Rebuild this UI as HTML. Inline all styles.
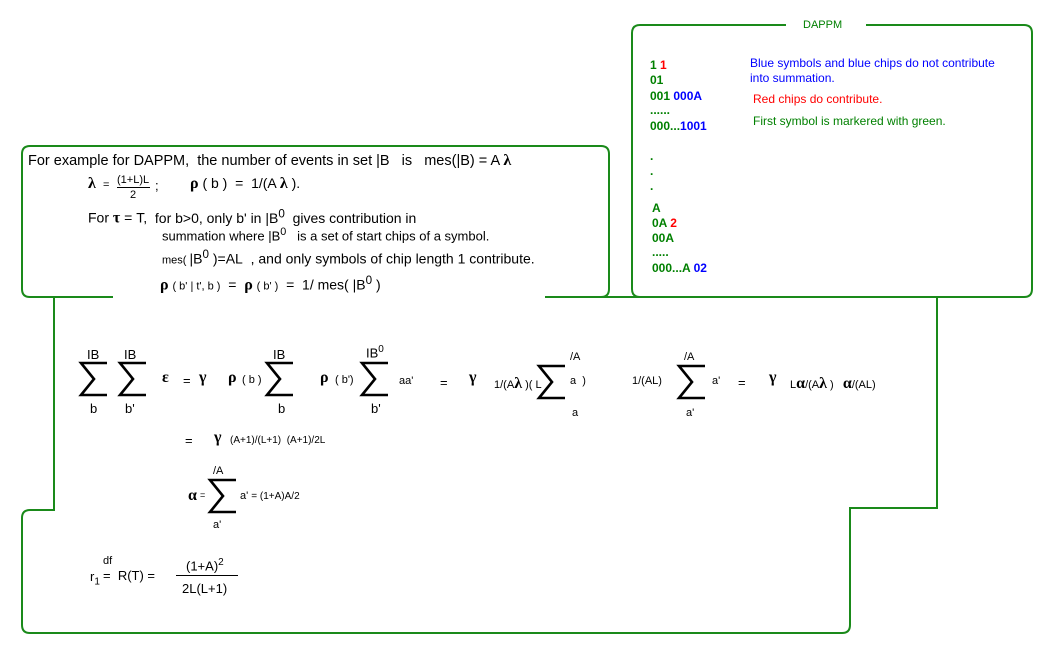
<!DOCTYPE html>
<html><head><meta charset="utf-8"><style>
body{margin:0;width:1055px;height:661px;background:#fff;position:relative;overflow:hidden;font-family:"Liberation Sans",Arial,sans-serif;color:#000}
.t{position:absolute;white-space:nowrap;line-height:1;font-size:13px}
.s{font-size:11px}
.g{font-weight:bold;font-family:"Liberation Serif",serif;font-size:16px}
.gr{color:#008000;font-weight:bold;font-size:12px}
.bl{color:#0000ff}.rd{color:#ff0000}
</style></head><body>
<svg width="1055" height="661" style="position:absolute;left:0;top:0" fill="none" stroke="#1a8a1a" stroke-width="2">
<path d="M113 297 H30 Q22 297 22 289 V154 Q22 146 30 146 H601 Q609 146 609 154 V289 Q609 297 601 297 H545"/>
<path d="M54 297 V510 H30 Q22 510 22 518 V625 Q22 633 30 633 H842 Q850 633 850 625 V508 H937 V297 H545"/>
<path d="M672 297 H640 Q632 297 632 289 V33 Q632 25 640 25 H786 M866 25 H1024 Q1032 25 1032 33 V289 Q1032 297 1024 297 H895"/>
</svg>
<svg width="1055" height="661" style="position:absolute;left:0;top:0" fill="none" stroke="#000" stroke-width="2.6" stroke-linejoin="miter">
<defs><path id="sg" d="M28 1 H2 L15 17 L2 33 H28"/></defs>
<use href="#sg" x="79" y="362"/>
<use href="#sg" x="118" y="362"/>
<use href="#sg" x="265" y="362"/>
<use href="#sg" x="360" y="362"/>
<use href="#sg" x="537" y="365"/>
<use href="#sg" x="677" y="365"/>
<use href="#sg" x="208" y="479"/>
</svg>
<div class="t s" style="left:803px;top:20px;color:#008000">DAPPM</div>
<div class="t gr" style="left:650px;top:59px">1 <span class="rd">1</span></div>
<div class="t gr" style="left:650px;top:74px">01</div>
<div class="t gr" style="left:650px;top:90px">001 <span class="bl">000A</span></div>
<div class="t gr" style="left:650px;top:104px">......</div>
<div class="t gr" style="left:650px;top:120px">000...<span class="bl">1001</span></div>
<div class="t gr" style="left:650px;top:150px">.</div>
<div class="t gr" style="left:650px;top:165px">.</div>
<div class="t gr" style="left:650px;top:180px">.</div>
<div class="t gr" style="left:652px;top:202px">A</div>
<div class="t gr" style="left:652px;top:217px">0A <span class="rd">2</span></div>
<div class="t gr" style="left:652px;top:232px">00A</div>
<div class="t gr" style="left:652px;top:246px">.....</div>
<div class="t gr" style="left:652px;top:262px">000...A <span class="bl">02</span></div>
<div class="t bl" style="left:750px;top:57px;font-size:12px">Blue symbols and blue chips do not contribute</div>
<div class="t bl" style="left:750px;top:72px;font-size:12px">into summation.</div>
<div class="t rd" style="left:753px;top:93px;font-size:12px">Red chips do contribute.</div>
<div class="t" style="left:753px;top:115px;color:#008000;font-size:12px">First symbol is markered with green.</div>

<div class="t" style="left:28px;top:153px;font-size:14.5px">For example for DAPPM,&nbsp; the number of events in set |B &nbsp; is &nbsp; mes(|B) = A <span class="g">λ</span></div>
<div class="t g" style="left:88px;top:176px">λ</div>
<div class="t s" style="left:103px;top:180px">=</div>
<div class="t s" style="left:117px;top:175px">(1+L)L</div>
<div style="position:absolute;left:117px;top:187px;width:33px;height:1px;background:#000"></div>
<div class="t s" style="left:130px;top:190px">2</div>
<div class="t" style="left:155px;top:179px">;</div>
<div class="t" style="left:190px;top:176px;font-size:14px"><span class="g">ρ</span> ( b )&nbsp; = &nbsp;1/(A <span class="g">λ</span> ).</div>
<div class="t" style="left:88px;top:208px;font-size:14px">For <span class="g">τ</span> = T,&nbsp; <span style="font-size:14px">for b&gt;0, only b' in |B<sup>0</sup>&nbsp; gives contribution in</span></div>
<div class="t" style="left:162px;top:227px;font-size:13px">summation where |B<sup>0</sup> &nbsp; is a set of start chips of a symbol.</div>
<div class="t" style="left:162px;top:249px;font-size:14px"><span class="s">mes( </span>|B<sup>0</sup> )=AL&nbsp; , and only symbols of chip length 1 contribute.</div>
<div class="t" style="left:160px;top:275px;font-size:14px"><span class="g">ρ</span> <span class="s">( b' | t', b )</span>&nbsp; = &nbsp;<span class="g">ρ</span> <span class="s">( b' )</span>&nbsp; = &nbsp;1/ mes( |B<sup>0</sup> )</div>

<div class="t" style="left:87px;top:348px">IB</div><div class="t" style="left:90px;top:402px">b</div>
<div class="t" style="left:124px;top:348px">IB</div><div class="t" style="left:125px;top:402px">b'</div>
<div class="t g" style="left:162px;top:370px">ε</div>
<div class="t" style="left:183px;top:374px">=</div><div class="t g" style="left:199px;top:370px">γ</div>
<div class="t g" style="left:228px;top:370px">ρ</div><div class="t s" style="left:242px;top:375px">( b )</div>
<div class="t" style="left:273px;top:348px">IB</div><div class="t" style="left:278px;top:402px">b</div>
<div class="t g" style="left:320px;top:370px">ρ</div><div class="t s" style="left:335px;top:375px">( b')</div>
<div class="t" style="left:366px;top:345px">IB<sup style="font-size:10px">0</sup></div><div class="t" style="left:371px;top:402px">b'</div>
<div class="t s" style="left:399px;top:376px">aa'</div>
<div class="t" style="left:440px;top:376px">=</div><div class="t g" style="left:469px;top:370px">γ</div>
<div class="t s" style="left:494px;top:376px">1/(A<span class="g">λ</span> )( L</div>
<div class="t s" style="left:570px;top:352px">/A</div><div class="t s" style="left:572px;top:408px">a</div>
<div class="t s" style="left:570px;top:376px">a&nbsp; )</div>
<div class="t s" style="left:632px;top:376px">1/(AL)</div>
<div class="t s" style="left:684px;top:352px">/A</div><div class="t s" style="left:686px;top:408px">a'</div>
<div class="t s" style="left:712px;top:376px">a'</div>
<div class="t" style="left:738px;top:376px">=</div><div class="t g" style="left:769px;top:370px">γ</div>
<div class="t s" style="left:790px;top:376px">L<span class="g">α</span>/(A<span class="g">λ</span> )&nbsp;&nbsp; <span class="g">α</span>/(AL)</div>
<div class="t" style="left:185px;top:434px">=</div><div class="t g" style="left:214px;top:430px">γ</div>
<div class="t" style="left:230px;top:436px;font-size:10px">(A+1)/(L+1)&nbsp; (A+1)/2L</div>
<div class="t g" style="left:188px;top:488px">α</div><div class="t s" style="left:200px;top:491px;font-size:9px">=</div>
<div class="t s" style="left:213px;top:466px">/A</div><div class="t s" style="left:213px;top:520px">a'</div>
<div class="t s" style="left:240px;top:491px">a' <span style="font-size:10px">= (1+A)A/2</span></div>
<div class="t" style="left:90px;top:570px">r<sub style="font-size:10px">1</sub></div>
<div class="t s" style="left:103px;top:556px">df</div>
<div class="t" style="left:103px;top:569px">=&nbsp; R(T) =</div>
<div class="t" style="left:186px;top:558px">(1+A)<sup style="font-size:10px">2</sup></div>
<div style="position:absolute;left:176px;top:575px;width:62px;height:1px;background:#000"></div>
<div class="t" style="left:182px;top:582px">2L(L+1)</div>
</body></html>
